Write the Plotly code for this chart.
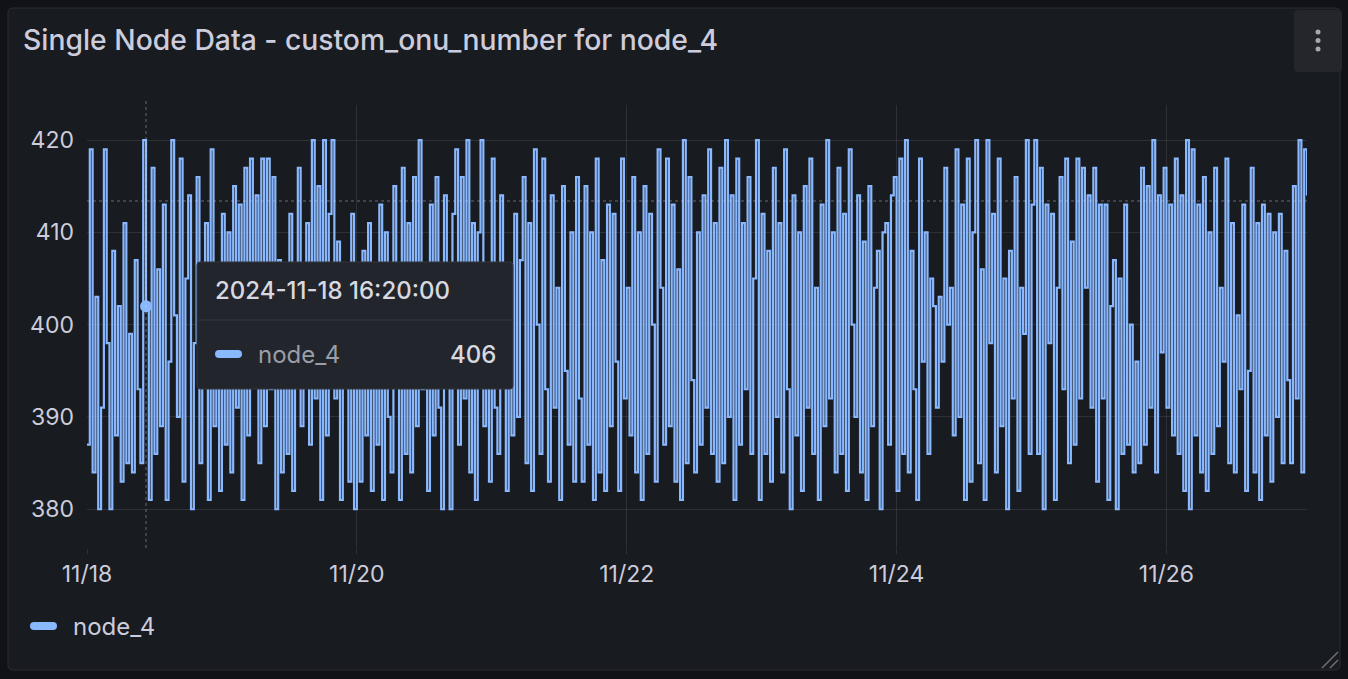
import plotly.graph_objects as go
import pandas as pd

# ---------------- data ----------------
TITLE = "Single Node Data - custom_onu_number for node_4"
SERIES_NAME = "node_4"
START = "2024-11-18 00:00:00"
STEP = "30min"

values = [
    387, 419, 384, 403, 380, 391, 419, 398, 380, 408, 388, 402, 383, 411, 385, 399,
    384, 407, 393, 385, 420, 402, 381, 417, 386, 406, 389, 413, 381, 396, 420, 401,
    390, 418, 383, 405, 414, 380, 398, 416, 385, 402, 411, 381, 419, 389, 404, 382,
    412, 387, 410, 384, 415, 391, 413, 381, 417, 388, 418, 396, 414, 385, 418, 389,
    418, 393, 416, 380, 407, 384, 400, 386, 412, 382, 403, 417, 389, 398, 411, 387,
    420, 392, 415, 381, 420, 388, 412, 420, 392, 409, 381, 405, 395, 383, 412, 380,
    401, 383, 408, 388, 411, 382, 403, 387, 413, 381, 410, 390, 384, 415, 396, 381,
    417, 386, 411, 384, 416, 389, 420, 393, 404, 382, 413, 388, 416, 391, 380, 414,
    396, 380, 412, 419, 387, 416, 392, 420, 384, 411, 381, 410, 420, 389, 405, 383,
    418, 391, 386, 414, 399, 382, 406, 388, 412, 390, 407, 416, 385, 411, 382, 419,
    400, 386, 418, 393, 383, 414, 391, 404, 381, 415, 395, 387, 410, 383, 416, 392,
    383, 415, 387, 410, 381, 418, 384, 407, 382, 413, 389, 412, 396, 382, 418, 392,
    404, 388, 416, 384, 410, 381, 415, 386, 412, 400, 383, 419, 404, 387, 418, 389,
    413, 383, 406, 381, 420, 385, 416, 394, 384, 410, 387, 414, 391, 419, 386, 411,
    383, 417, 385, 420, 390, 414, 381, 418, 387, 411, 393, 416, 386, 405, 420, 381,
    412, 386, 408, 383, 417, 390, 411, 384, 419, 393, 380, 414, 388, 410, 382, 415,
    391, 418, 386, 404, 381, 413, 389, 420, 392, 410, 384, 417, 386, 412, 382, 419,
    400, 390, 414, 384, 409, 381, 415, 389, 404, 408, 380, 410, 411, 387, 414, 416,
    382, 418, 386, 420, 384, 408, 393, 381, 418, 396, 410, 386, 405, 402, 391, 403,
    396, 417, 400, 404, 388, 419, 390, 413, 381, 418, 383, 410, 420, 385, 406, 381,
    420, 398, 412, 384, 418, 389, 405, 380, 408, 392, 416, 382, 404, 399, 420, 386,
    413, 420, 386, 417, 380, 413, 398, 412, 381, 404, 416, 393, 418, 385, 409, 387,
    418, 392, 417, 404, 414, 391, 417, 383, 413, 392, 413, 381, 402, 407, 380, 405,
    386, 413, 387, 400, 384, 396, 385, 417, 387, 415, 391, 420, 384, 414, 397, 417,
    391, 413, 388, 418, 386, 414, 382, 420, 380, 419, 388, 413, 384, 416, 382, 410,
    386, 417, 389, 404, 396, 418, 385, 411, 384, 401, 393, 413, 382, 395, 417, 384,
    411, 381, 413, 388, 412, 383, 410, 390, 412, 385, 408, 394, 385, 415, 392, 420,
    384, 419, 414,
]

y_ticks = [380, 390, 400, 410, 420]
y_range = [375.8, 423.8]
x_tick_dates = ["2024-11-18", "2024-11-20", "2024-11-22", "2024-11-24", "2024-11-26"]
x_tick_labels = ["11/18", "11/20", "11/22", "11/24", "11/26"]

tooltip_time = "2024-11-18 16:20:00"
tooltip_value = "406"
hover_index = 21
crosshair_y = 413.4

# ---------------- styles ----------------
W, H = 1348, 679
PL, PR, PT, PB = 87, 1307, 105, 548  # plot area in pixels
PAGE_BG = "#111217"
PANEL_BG = "#181b1f"
PANEL_BORDER = "#2a2d33"
LINE = "#8ab8ff"
TEXT = "#ccccdc"
GRID = "rgba(204,204,220,0.12)"
FONT = "Inter"

times = pd.date_range(START, periods=len(values), freq=STEP)


def px(x):
    return (x - PL) / (PR - PL)


def py(y):
    return (PB - y) / (PB - PT)


def rrect_path(x0, y0, x1, y1, r):
    pts = [
        ("M", [(x0 + r, y0)]),
        ("L", [(x1 - r, y0)]),
        ("Q", [(x1, y0), (x1, y0 + r)]),
        ("L", [(x1, y1 - r)]),
        ("Q", [(x1, y1), (x1 - r, y1)]),
        ("L", [(x0 + r, y1)]),
        ("Q", [(x0, y1), (x0, y1 - r)]),
        ("L", [(x0, y0 + r)]),
        ("Q", [(x0, y0), (x0 + r, y0)]),
    ]
    s = ""
    for cmd, ps in pts:
        s += cmd + " " + " ".join(f"{px(a):.5f},{py(b):.5f}" for a, b in ps) + " "
    return s + "Z"


fig = go.Figure()

fig.add_trace(go.Scatter(
    x=times, y=values, mode="lines", name=SERIES_NAME,
    line=dict(color=LINE, width=2.2, shape="hv"),
    hoverinfo="skip", showlegend=False,
))
fig.add_trace(go.Scatter(
    x=[times[hover_index]], y=[values[hover_index]], mode="markers",
    marker=dict(color=LINE, size=12, line=dict(color=LINE, width=0)),
    hoverinfo="skip", showlegend=False,
))

shapes = []
# panel
shapes.append(dict(type="path", xref="paper", yref="paper", layer="below",
                   path=rrect_path(8, 8, 1340, 670, 5),
                   fillcolor=PANEL_BG, line=dict(color=PANEL_BORDER, width=1)))
# menu button
shapes.append(dict(type="path", xref="paper", yref="paper", layer="above",
                   path=rrect_path(1294, 10, 1342, 72, 4),
                   fillcolor="#24262c", line=dict(width=0)))
for dy in (32, 40.5, 49):
    shapes.append(dict(type="circle", xref="paper", yref="paper", layer="above",
                       x0=px(1315.5), x1=px(1320.5), y0=py(dy + 2.5), y1=py(dy - 2.5),
                       fillcolor="#a5a8b0", line=dict(width=0)))
# resize handle
for (a, b, c, d) in [(1322, 668, 1338, 652), (1330, 668, 1338, 660)]:
    shapes.append(dict(type="line", xref="paper", yref="paper", layer="above",
                       x0=px(a), y0=py(b), x1=px(c), y1=py(d),
                       line=dict(color="#6e7178", width=1.5)))
# crosshair
shapes.append(dict(type="line", xref="x", yref="paper", layer="above",
                   x0=times[hover_index], x1=times[hover_index], y0=0, y1=py(101),
                   line=dict(color="rgba(204,204,220,0.45)", width=1, dash="dot")))
shapes.append(dict(type="line", xref="paper", yref="y", layer="above",
                   x0=0, x1=1, y0=crosshair_y, y1=crosshair_y,
                   line=dict(color="rgba(204,204,220,0.45)", width=1, dash="dot")))
# tooltip
shapes.append(dict(type="path", xref="paper", yref="paper", layer="above",
                   path=rrect_path(197, 262, 513, 389, 3),
                   fillcolor="#22252b", line=dict(color="#34373e", width=1)))
shapes.append(dict(type="line", xref="paper", yref="paper", layer="above",
                   x0=px(198), x1=px(512), y0=py(320), y1=py(320),
                   line=dict(color="#34373e", width=1)))
shapes.append(dict(type="path", xref="paper", yref="paper", layer="above",
                   path=rrect_path(215, 350, 242, 358, 4),
                   fillcolor=LINE, line=dict(width=0)))
# legend swatch
shapes.append(dict(type="path", xref="paper", yref="paper", layer="above",
                   path=rrect_path(30, 622, 57, 630, 4),
                   fillcolor=LINE, line=dict(width=0)))

annotations = [
    dict(text=TITLE, x=px(21), y=py(40), xref="paper", yref="paper",
         xanchor="left", yanchor="middle", showarrow=False,
         font=dict(family=FONT, size=28.3, color=TEXT, weight=500)),
    dict(text=tooltip_time, x=px(213), y=py(290), xref="paper", yref="paper",
         xanchor="left", yanchor="middle", showarrow=False,
         font=dict(family=FONT, size=24, color="#d8d9e0", weight=500)),
    dict(text=SERIES_NAME, x=px(256), y=py(354), xref="paper", yref="paper",
         xanchor="left", yanchor="middle", showarrow=False,
         font=dict(family=FONT, size=24, color="#9a9ea8")),
    dict(text=tooltip_value, x=px(498), y=py(354), xref="paper", yref="paper",
         xanchor="right", yanchor="middle", showarrow=False,
         font=dict(family=FONT, size=24, color="#d8d9e0", weight=500)),
    dict(text=SERIES_NAME, x=px(71), y=py(626), xref="paper", yref="paper",
         xanchor="left", yanchor="middle", showarrow=False,
         font=dict(family=FONT, size=24, color=TEXT)),
]

fig.update_layout(
    width=W, height=H, autosize=False,
    margin=dict(l=PL, r=W - PR, t=PT, b=H - PB, pad=0),
    paper_bgcolor=PAGE_BG, plot_bgcolor="rgba(0,0,0,0)",
    font=dict(family=FONT, color=TEXT, size=23),
    shapes=shapes, annotations=annotations,
    showlegend=False, hovermode=False,
    xaxis=dict(
        type="date", range=[times[0], times[-1]],
        tickvals=x_tick_dates, ticktext=x_tick_labels,
        showgrid=True, gridcolor=GRID, gridwidth=1,
        ticks="outside", ticklen=5, tickcolor=GRID,
        ticklabelstandoff=0,
        zeroline=False, showline=False,
        tickfont=dict(family=FONT, size=23, color=TEXT),
    ),
    yaxis=dict(
        range=y_range, tickvals=y_ticks,
        showgrid=True, gridcolor=GRID, gridwidth=1,
        ticks="", ticklabelstandoff=12,
        zeroline=False, showline=False,
        tickfont=dict(family=FONT, size=23, color=TEXT),
    ),
)

fig.write_html("out.html")
